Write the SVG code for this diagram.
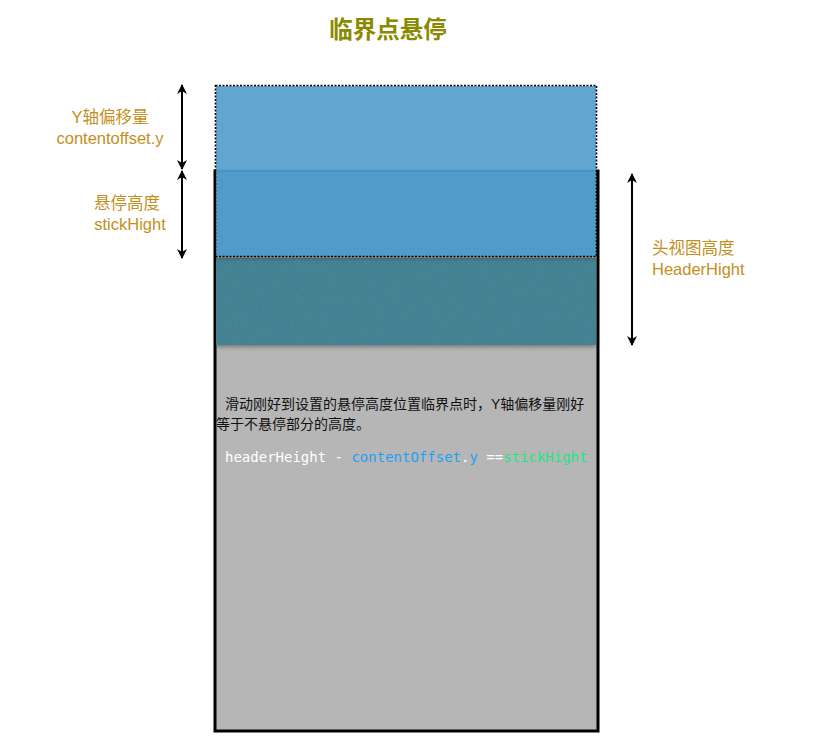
<svg xmlns="http://www.w3.org/2000/svg" width="835" height="743" viewBox="0 0 835 743">
<defs>
<style>
.lbl{font-family:"Liberation Sans","Noto Sans CJK SC",sans-serif;font-size:16.5px;fill:#c38f1d}
.body{font-family:"Liberation Sans","Noto Sans CJK SC",sans-serif;font-size:14px;fill:#111}
.code{font-family:"DejaVu Sans Mono",monospace;font-size:14px}
.arr{stroke:#000;stroke-width:2;fill:none}
</style>
<marker id="ah" viewBox="0 0 10 10" refX="9" refY="5" markerWidth="5" markerHeight="5" orient="auto-start-reverse">
<path d="M0,0 L10,5 L0,10 L3,5 z" fill="#000"/>
</marker>
<filter id="sh" x="-5%" y="-10%" width="110%" height="130%">
<feDropShadow dx="0" dy="2" stdDeviation="2" flood-color="#000" flood-opacity="0.35"/>
</filter>
<filter id="noise" x="0" y="0" width="100%" height="100%">
<feTurbulence type="fractalNoise" baseFrequency="0.9" numOctaves="2" result="n"/>
<feColorMatrix in="n" type="matrix" values="0 0 0 0 0.15  0 0 0 0 0.38  0 0 0 0 0.45  0 0 0 0.3 0" result="c"/>
<feComposite in="c" in2="SourceGraphic" operator="in" result="m"/>
<feMerge><feMergeNode in="SourceGraphic"/><feMergeNode in="m"/></feMerge>
</filter>
</defs>
<rect width="835" height="743" fill="#fff"/>
<text x="388" y="38" text-anchor="middle" font-family="Liberation Sans,'Noto Sans CJK SC',sans-serif" font-size="23.5" font-weight="bold" fill="#8a8a00">临界点悬停</text>
<g id="screen">
<rect x="215" y="171" width="383" height="560" fill="#b6b6b6" stroke="#000" stroke-width="3"/>
</g>
<g id="header">
<rect x="216" y="258" width="380" height="87" fill="#3b7b8c" filter="url(#sh)"/>
<rect x="216" y="258" width="380" height="87" fill="#3b7b8c" filter="url(#noise)"/>
</g>
<g id="offset">
<rect x="216" y="86" width="380" height="85" fill="#62a6d0"/>
<rect x="216" y="171" width="380" height="85" fill="#519bca" filter="url(#sh)"/>
<line x1="216" y1="171" x2="596" y2="171" stroke="#4b92c0" stroke-width="2"/>
<rect x="215.5" y="85.5" width="381" height="171" fill="none" stroke="#000" stroke-width="1.6" stroke-dasharray="2,1.5"/>
</g>
<g id="connectors">
<line class="arr" x1="182" y1="85" x2="182" y2="169" marker-start="url(#ah)" marker-end="url(#ah)"/>
<line class="arr" x1="182" y1="171" x2="182" y2="258" marker-start="url(#ah)" marker-end="url(#ah)"/>
<line class="arr" x1="632" y1="174" x2="632" y2="345" marker-start="url(#ah)" marker-end="url(#ah)"/>
</g>
<g id="labels">
<text class="lbl" x="110" y="123" text-anchor="middle">Y轴偏移量</text>
<text class="lbl" x="110" y="144" text-anchor="middle">contentoffset.y</text>
<text class="lbl" x="127" y="209" text-anchor="middle">悬停高度</text>
<text class="lbl" x="130" y="230" text-anchor="middle">stickHight</text>
<text class="lbl" x="652" y="254">头视图高度</text>
<text class="lbl" x="652" y="275">HeaderHight</text>
</g>
<g id="desc">
<text class="body" x="225" y="409">滑动刚好到设置的悬停高度位置临界点时，Y轴偏移量刚好</text>
<text class="body" x="216" y="429">等于不悬停部分的高度。</text>
<text class="code" x="225" y="462"><tspan fill="#fff">headerHeight - </tspan><tspan fill="#1ea1f0">contentOffset</tspan><tspan fill="#fff">.</tspan><tspan fill="#1ea1f0">y </tspan><tspan fill="#fff">==</tspan><tspan fill="#1ee682">stickHight</tspan></text>
</g>
</svg>
